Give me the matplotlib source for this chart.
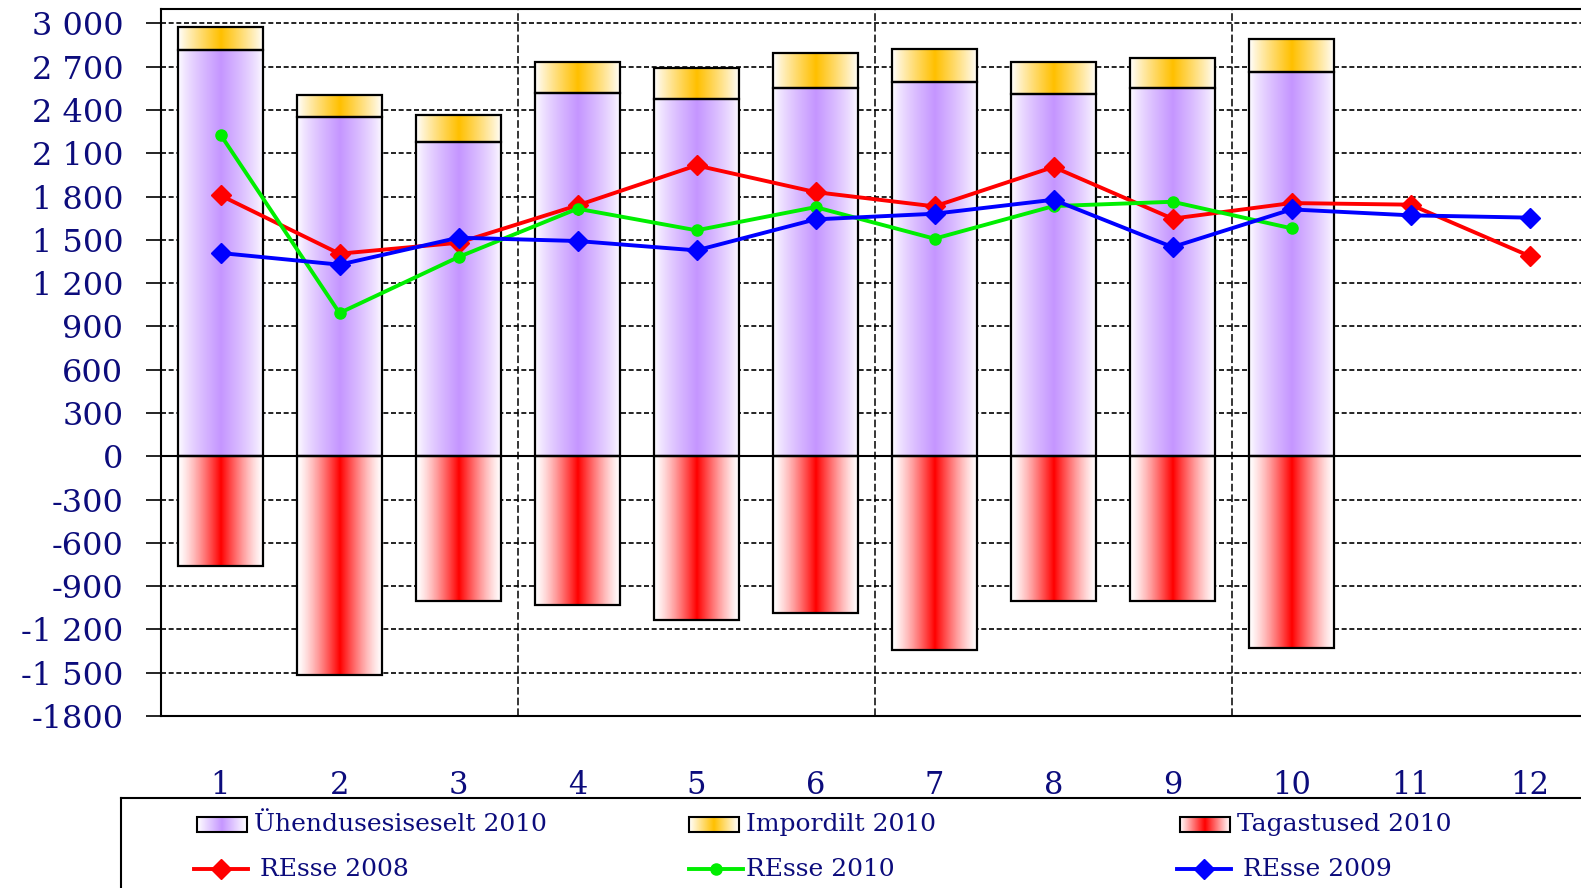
import numpy as np
import matplotlib
matplotlib.use("Agg")
import matplotlib.pyplot as plt
import matplotlib.colors as mcolors

# %%
months = [1, 2, 3, 4, 5, 6, 7, 8, 9, 10, 11, 12]
bar_months = [1, 2, 3, 4, 5, 6, 7, 8, 9, 10]
uhendus_2010 = [2813, 2353, 2176, 2515, 2474, 2555, 2594, 2513, 2555, 2663]
import_2010 = [161, 148, 187, 215, 214, 242, 231, 217, 203, 229]
tagastus_2010 = [-760, -1517, -1005, -1028, -1138, -1083, -1342, -1005, -1005, -1328]
resse_2008 = [1808, 1404, 1480, 1739, 2016, 1831, 1732, 2005, 1647, 1755, 1744, 1388]
resse_2010 = [2229, 993, 1381, 1716, 1566, 1727, 1508, 1734, 1764, 1580]
resse_2009 = [1409, 1328, 1515, 1492, 1427, 1642, 1681, 1778, 1450, 1711, 1670, 1654]
yticks = [3000, 2700, 2400, 2100, 1800, 1500, 1200, 900, 600, 300, 0,
          -300, -600, -900, -1200, -1500, -1800]
ytick_labels = ["3 000", "2 700", "2 400", "2 100", "1 800", "1 500", "1 200",
                "900", "600", "300", "0", "-300", "-600", "-900", "-1 200",
                "-1 500", "-1800"]

NAVY = "#0c0c7c"
FONT = "DejaVu Serif"
PURPLE = "#c596ff"
ORANGE = "#ffc000"
RED = "#ff0000"
GREEN = "#00ee00"
BLUE = "#0000ff"
W = 0.72


def grad(color, p=1.0, n=101):
    t = np.linspace(0, 1, n)
    w = (1 - np.abs(2 * t - 1)) ** p
    rgb = np.array(mcolors.to_rgb(color))
    img = 1 - w[:, None] * (1 - rgb)[None, :]
    return img[None, :, :]


def grad_bar(ax, x, bottom, height, color, p):
    y0, y1 = bottom, bottom + height
    ax.imshow(grad(color, p), extent=[x - W / 2, x + W / 2, min(y0, y1), max(y0, y1)],
              aspect="auto", interpolation="bilinear", zorder=2)


# %%
fig = plt.figure(figsize=(15.81, 8.88), dpi=100)
ax = fig.add_axes([161 / 1581, 1 - 716 / 888, 1420 / 1581, 707 / 888])

for i, m in enumerate(bar_months):
    grad_bar(ax, m, 0, uhendus_2010[i], PURPLE, 0.75)
    grad_bar(ax, m, uhendus_2010[i], import_2010[i], ORANGE, 0.9)
    grad_bar(ax, m, 0, tagastus_2010[i], RED, 1.3)

ax.bar(bar_months, uhendus_2010, W, fill=False, edgecolor="black", lw=1.6, zorder=3)
ax.bar(bar_months, import_2010, W, bottom=uhendus_2010, fill=False,
       edgecolor="black", lw=1.6, zorder=3)
ax.bar(bar_months, tagastus_2010, W, fill=False, edgecolor="black", lw=1.6, zorder=3)

ax.plot(months, resse_2008, color=RED, lw=2.8, marker="D", ms=10, zorder=5)
ax.plot(bar_months, resse_2010, color=GREEN, lw=2.8, marker="o", ms=8, zorder=5)
ax.plot(months, resse_2009, color=BLUE, lw=2.8, marker="D", ms=10, zorder=5)

ax.set_xlim(0.5, 0.5 + 1420 / 119)
ax.set_ylim(-1800, 3100)
for yv in yticks:
    if yv != 0:
        ax.axhline(yv, color="black", lw=1.2, ls=(0, (3, 1.6)), zorder=1)
ax.axhline(0, color="black", lw=1.5, zorder=4)
for xv in [3.5, 6.5, 9.5]:
    ax.axvline(xv, color="black", lw=1.1, ls=(0, (5, 2)), zorder=1)

ax.set_yticks(yticks)
ax.set_yticklabels(ytick_labels)
ax.set_xticks(months)
ax.tick_params(axis="y", length=11, width=1.2, pad=16, labelsize=23, labelcolor=NAVY)
ax.tick_params(axis="x", length=0, pad=39, labelsize=22, labelcolor=NAVY)
for lab in ax.get_xticklabels() + ax.get_yticklabels():
    lab.set_fontfamily(FONT)
ax.spines["right"].set_visible(False)
for s in ["left", "top", "bottom"]:
    ax.spines[s].set_linewidth(1.5)

# %% legend drawn by hand
lg = fig.add_axes([121 / 1581, 0, 1 - 121 / 1581, 90 / 888])
lg.set_xticks([])
lg.set_yticks([])
lg.spines["right"].set_visible(False)
lg.spines["bottom"].set_visible(False)
lg.spines["left"].set_linewidth(1.5)
lg.spines["top"].set_linewidth(1.5)
lg.patch.set_alpha(0)

patch_items = [("Ühendusesiseselt 2010", PURPLE, 197), ("Impordilt 2010", ORANGE, 689),
               ("Tagastused 2010", RED, 1180)]
for name, col, x0 in patch_items:
    lg.imshow(grad(col), extent=[x0, x0 + 50, 832, 817], aspect="auto",
              interpolation="bilinear")
    lg.add_patch(plt.Rectangle((x0, 817), 50, 15, fill=False, ec="black", lw=1.5))
    lg.text(x0 + 57, 824, name, fontsize=18, family=FONT, color=NAVY, va="center")

line_items = [("REsse 2008", RED, "D", 194, 260), ("REsse 2010", GREEN, "o", 689, 746),
              ("REsse 2009", BLUE, "D", 1177, 1243)]
for name, col, mk, x0, xt in line_items:
    lg.plot([x0, x0 + 54], [869, 869], color=col, lw=2.8)
    lg.plot([x0 + 27], [869], color=col, marker=mk, ms=10 if mk == "D" else 8)
    lg.text(xt, 869, name, fontsize=18, family=FONT, color=NAVY, va="center")
lg.set_xlim(121, 1581)
lg.set_ylim(888, 798)

fig.savefig("out.png", dpi=100)
